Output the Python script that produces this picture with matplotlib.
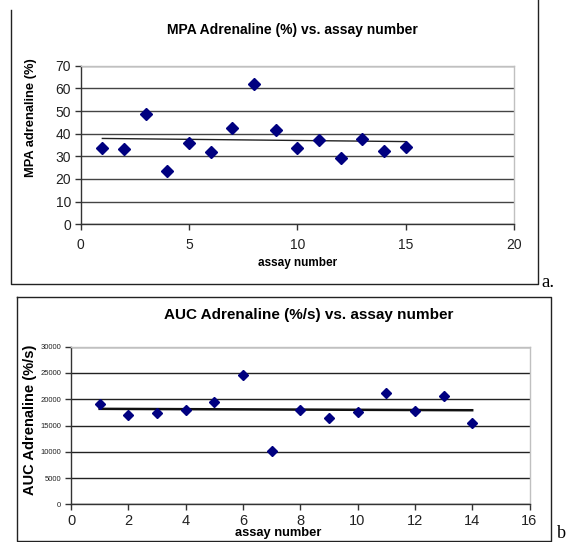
import matplotlib
matplotlib.use("Agg")
import matplotlib.pyplot as plt
import numpy as np
from matplotlib.lines import Line2D

plt.rcParams['font.family'] = ['Liberation Sans', 'DejaVu Sans']

# data
assay_a = [1, 2, 3, 4, 5, 6, 7, 8, 9, 10, 11, 12, 13, 14, 15]
mpa = [33.8, 33.4, 48.8, 23.5, 36.0, 31.8, 42.4, 61.9, 41.6, 33.8, 37.4, 29.1, 37.8, 32.4, 34.3]
assay_b = [1, 2, 3, 4, 5, 6, 7, 8, 9, 10, 11, 12, 13, 14]
auc = [19090, 17060, 17440, 17950, 19470, 24540, 10150, 17950, 16360, 17570, 21120, 17760, 20610, 15470]

W, H = 571, 542
fig = plt.figure(figsize=(W / 100, H / 100), dpi=100)

def fx(x):
    return x / W

def fy(y):
    return 1 - y / H

def frame_line(xs, ys):
    fig.add_artist(Line2D([fx(v) for v in xs], [fy(v) for v in ys], transform=fig.transFigure,
                          color='#222222', lw=1.0))

def style_axes(ax, tick_size_x, tick_size_y, xpad):
    ax.spines['left'].set_color('#333333')
    ax.spines['bottom'].set_color('#333333')
    ax.spines['top'].set_color('#c0c0c0')
    ax.spines['right'].set_color('#c0c0c0')
    for s in ax.spines.values():
        s.set_linewidth(1.0)
    ax.tick_params(direction='out', length=4, width=1, color='#333333', colors='#222222')
    ax.tick_params(axis='x', labelsize=tick_size_x, pad=xpad)
    ax.tick_params(axis='y', labelsize=tick_size_y, pad=3)
    ax.yaxis.grid(True, color='#444444', lw=1.0)
    ax.set_axisbelow(True)

# ---- chart a ----
ax1 = fig.add_axes([fx(80.7), fy(224.3), fx(514 - 80.7), (224.3 - 65.7) / H])
ax1.plot(assay_a, mpa, 'D', color='#000080', ms=6.5, zorder=3)
k, b = np.polyfit(assay_a, mpa, 1)
xa = np.array([assay_a[0], assay_a[-1]])
ax1.plot(xa, k * xa + b, color='#222222', lw=1.0, zorder=2)
ax1.set_xlim(0, 20)
ax1.set_ylim(0, 70)
ax1.set_xticks(range(0, 21, 5))
ax1.set_yticks(range(0, 71, 10))
style_axes(ax1, 10, 10, 6)
fig.text(fx(292), fy(30), 'MPA Adrenaline (%) vs. assay number', ha='center', va='center',
         fontsize=10, fontweight='bold')
fig.text(fx(298), fy(263), 'assay number', ha='center', va='center', fontsize=8.5, fontweight='bold')
fig.text(fx(31), fy(118), 'MPA adrenaline (%)', ha='center', va='center', rotation=90,
         fontsize=9.3, fontweight='bold')
frame_line([10.7, 10.7, 537.7, 537.7], [10, 284, 284, 0])
fig.text(fx(541), fy(287), 'a.', ha='left', va='baseline', fontsize=13.5, family='Liberation Serif')

# ---- chart b ----
ax2 = fig.add_axes([fx(71), fy(504.3), fx(529.5 - 71), (504.3 - 346.7) / H])
ax2.plot(assay_b, auc, 'D', color='#000080', ms=5, zorder=3)
k2, b2 = np.polyfit(assay_b, auc, 1)
xb = np.array([assay_b[0], assay_b[-1]])
ax2.plot(xb, k2 * xb + b2, color='#111111', lw=1.8, zorder=2)
ax2.set_xlim(0, 16)
ax2.set_ylim(0, 30000)
ax2.set_xticks(range(0, 17, 2))
ax2.set_yticks(range(0, 30001, 5000))
style_axes(ax2, 10.5, 5.5, 3)
ax2.yaxis.grid(True, color='#222222', lw=1.0)
fig.text(fx(309), fy(315), 'AUC Adrenaline (%/s) vs. assay number', ha='center', va='center',
         fontsize=11, fontweight='bold')
fig.text(fx(278), fy(533), 'assay number', ha='center', va='center', fontsize=9.3, fontweight='bold')
fig.text(fx(30), fy(420), 'AUC Adrenaline (%/s)', ha='center', va='center', rotation=90,
         fontsize=10.5, fontweight='bold')
frame_line([17.3, 550.7, 550.7, 17.3, 17.3], [296.7, 296.7, 540.7, 540.7, 296.7])
fig.text(fx(557), fy(538), 'b', ha='left', va='baseline', fontsize=13, family='Liberation Serif')

fig.savefig('out.png', dpi=100)
